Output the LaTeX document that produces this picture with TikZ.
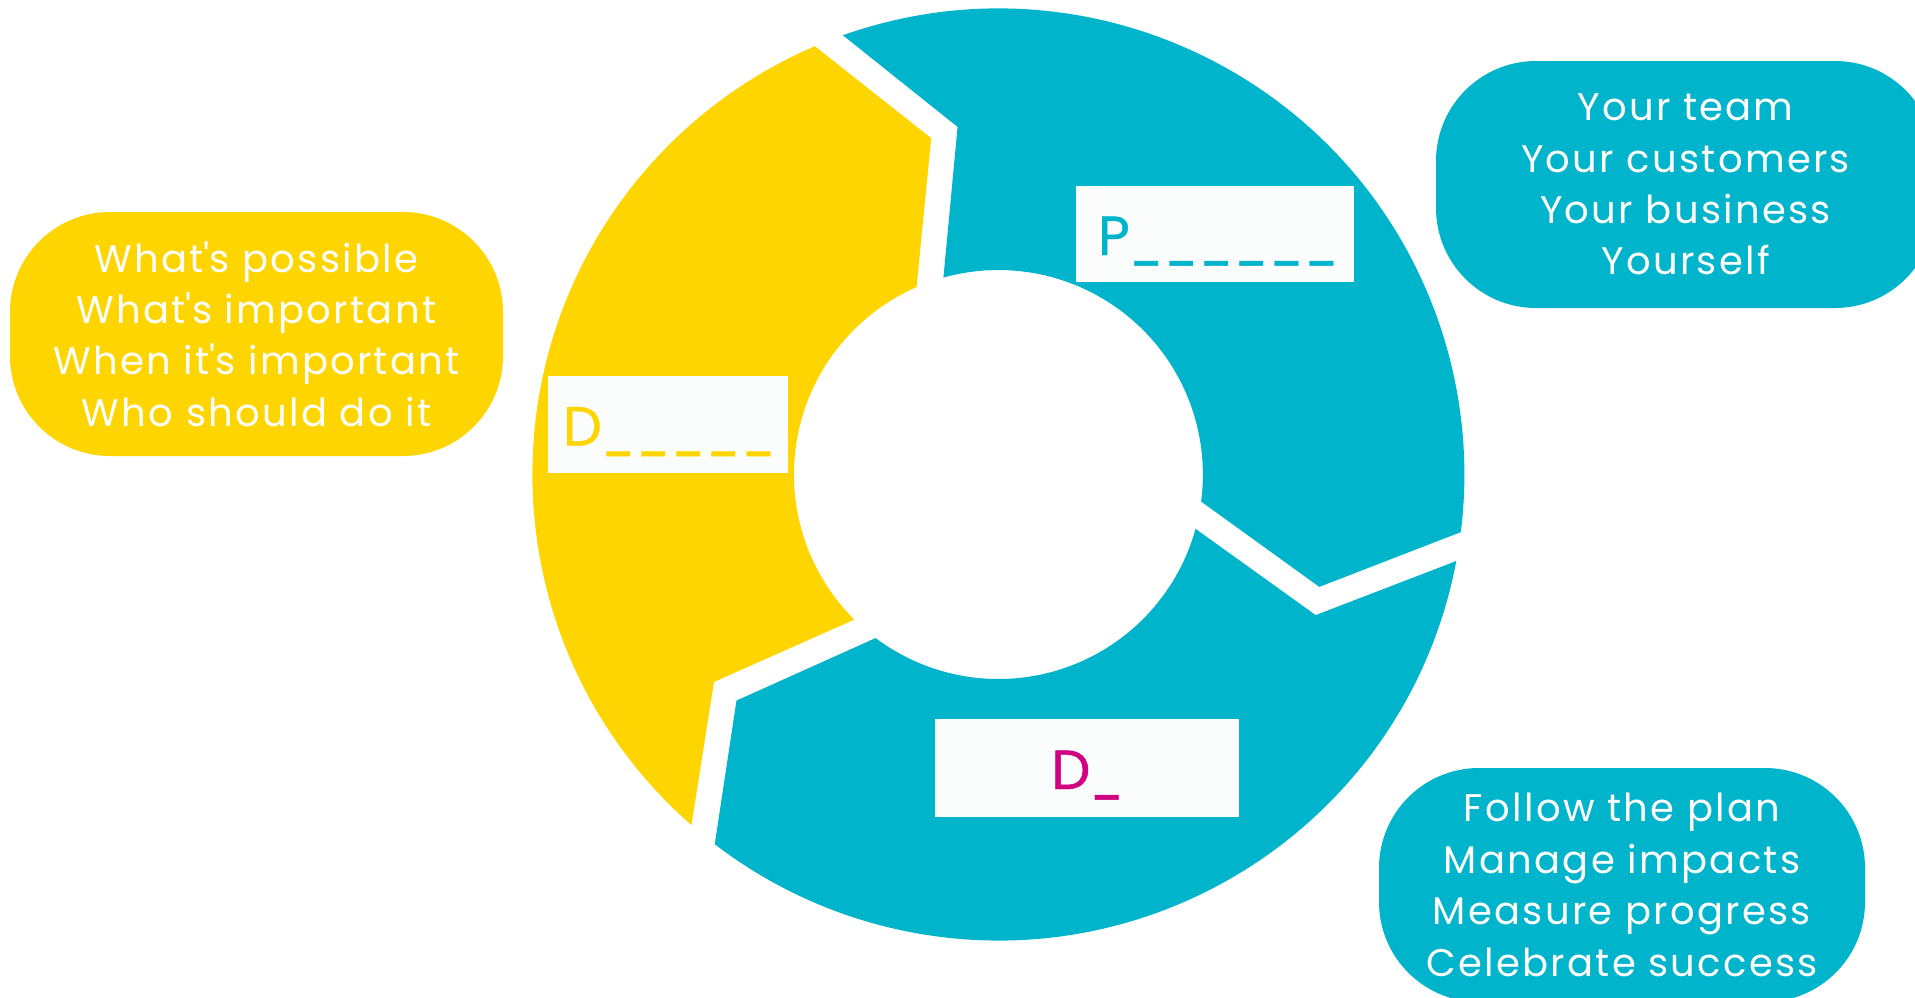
\documentclass[tikz,border=0pt]{standalone}
\usepackage{fontspec}
\setmainfont{Poppins}
\newfontfamily\bubblefont{Poppins}[LetterSpace=6]
\newfontfamily\labelfont{Poppins}[FakeBold=0.8]
\definecolor{cTeal}{RGB}{0,180,204}
\definecolor{cYel}{RGB}{255,213,0}
\definecolor{cMag}{RGB}{208,0,128}
\definecolor{cLab}{RGB}{250,253,252}
\newcommand\gapus{\raisebox{-4pt}{\scalebox{0.8}[1]{\_}}\kern2.8pt}
\begin{document}
\begin{tikzpicture}[x=1pt,y=1pt,
  bubble/.style={rounded corners=100pt, text=white, align=center, inner sep=0pt,
    font=\bubblefont\fontsize{38.5}{51.4}\selectfont},
  lab/.style={fill=cLab, inner sep=0pt, text height=50pt, text depth=8pt,
    font=\labelfont\fontsize{55}{60}\selectfont}]
\useasboundingbox (0,0) rectangle (1915,-997);
\clip (0,0) rectangle (1915,-997);
% ring
\begin{scope}[shift={(998.4,-474.5)}]
  \fill[cYel] (228.8:466pt) arc[start angle=228.8,end angle=113.2,radius=466pt]
    -- (101.3:343pt) -- (113.6:204.5pt)
    arc[start angle=113.6,end angle=225.2,radius=204.5pt]
    -- (216.1:352pt) -- cycle;
  \fill[cTeal] (109.5:466pt) arc[start angle=109.5,end angle=-7.1,radius=466pt]
    -- (-19.3:340pt) -- (-7.6:204.5pt)
    arc[start angle=-7.6,end angle=105.6,radius=204.5pt]
    -- (96.7:350pt) -- cycle;
  \fill[cTeal] (-10.7:466pt) arc[start angle=-10.7,end angle=-127.5,radius=466pt]
    -- (-139.2:346pt) -- (-126.9:204.5pt)
    arc[start angle=-126.9,end angle=-15.4,radius=204.5pt]
    -- (-23.9:347pt) -- cycle;
\end{scope}
% labels on the ring
\node[lab, minimum width=278pt, minimum height=96pt, text width=234pt, align=left, text=cTeal]
  (plan) at (1215,-234) {P\gapus\gapus\gapus\gapus\gapus\gapus};
\node[lab, minimum width=240pt, minimum height=97pt, text width=210pt, align=left, text=cYel]
  (decide) at (668,-424.5) {D\gapus\gapus\gapus\gapus\gapus};
\node[lab, minimum width=304pt, minimum height=98pt, text=cMag]
  (do) at (1087,-768) {D\raisebox{-4pt}{\scalebox{0.8}[1]{\_}}};
% bubbles
\node[bubble, fill=cYel, minimum width=493pt, minimum height=244pt]
  (yb) at (256.5,-334) {What\textquotesingle s possible\\What\textquotesingle s important\\When it\textquotesingle s important\\Who should do it};
\node[bubble, fill=cTeal, minimum width=499pt, minimum height=247pt]
  (tb) at (1685.5,-184.5) {Your team\\Your customers\\Your business\\Yourself};
\node[bubble, fill=cTeal, minimum width=486pt, minimum height=234pt]
  (bb) at (1622,-885) {Follow the plan\\Manage impacts\\Measure progress\\Celebrate success};
\end{tikzpicture}
\end{document}
